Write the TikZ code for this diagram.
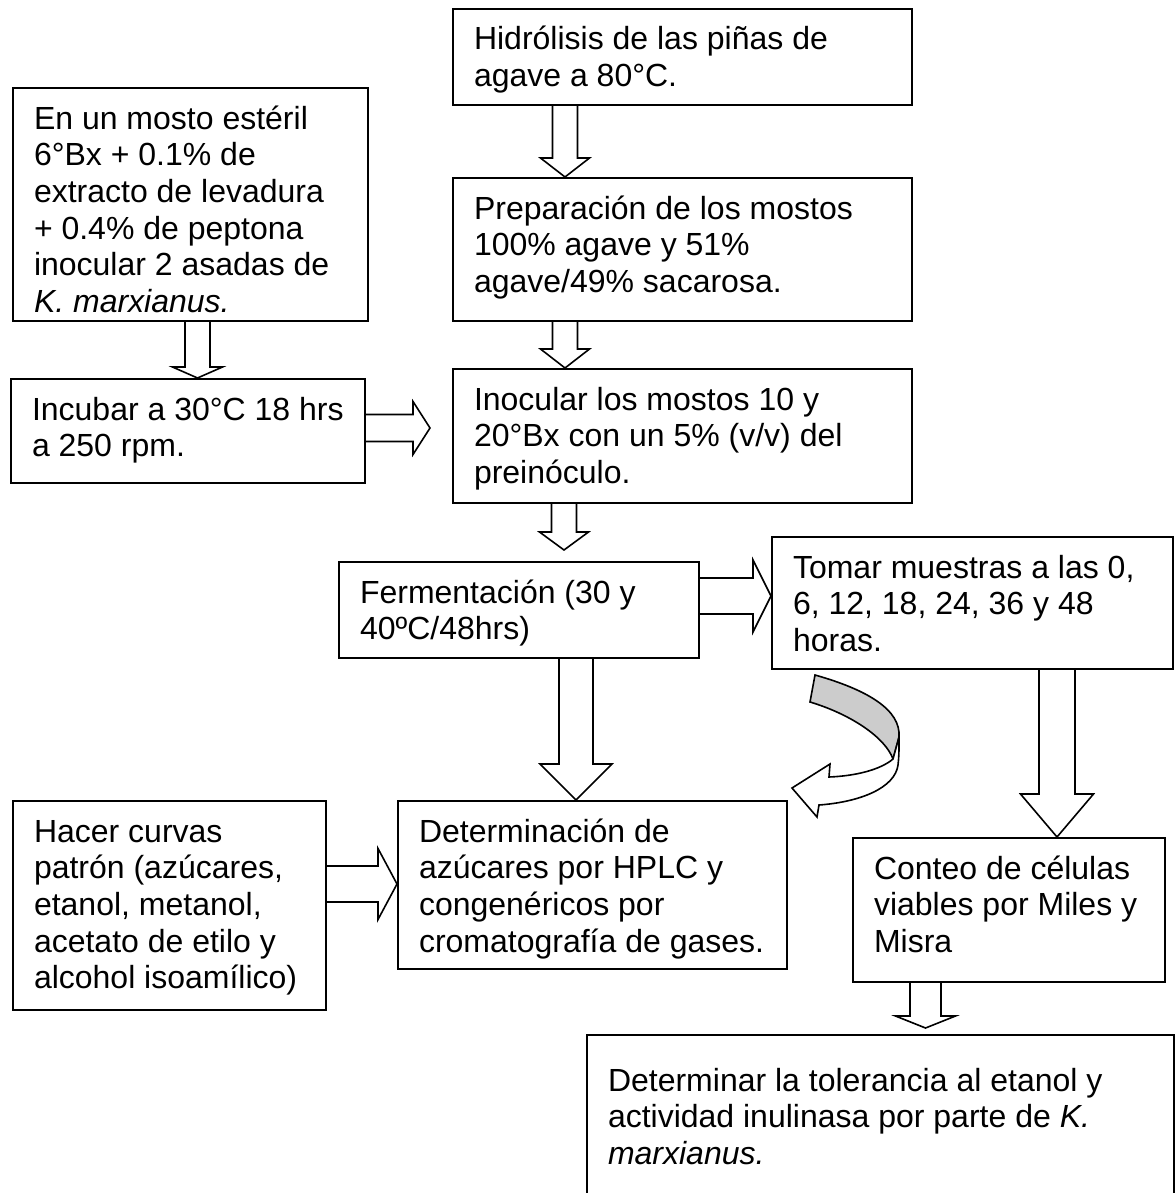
\documentclass[tikz,border=0pt]{standalone}
\usepackage{fontspec}
\setmainfont{Liberation Sans}
\usetikzlibrary{calc}

\tikzset{
  stepbox/.style={draw, line width=1pt, anchor=north west, inner sep=0pt},
  blockarrow/.style={draw, line width=0.8pt, line join=miter}
}

% box text: [first baseline] width, height, lines
\newcommand{\steptext}[4][20.5pt]{%
  \begin{minipage}[t][#3][t]{#2}%
    \raggedright\leftskip=10.5pt\parindent=0pt
    \fontsize{16pt}{18.35pt}\selectfont
    \rule{0pt}{#1}#4%
  \end{minipage}}

% hollow block arrows: tail, tip, shaft half width, head half width, head length
\newcommand{\downblock}[5]{%
  \draw[blockarrow] ($(#1)+(-#3,0)$) -- ($(#2)+(-#3,-#5)$) -- ($(#2)+(-#4,-#5)$)
    -- (#2) -- ($(#2)+(#4,-#5)$) -- ($(#2)+(#3,-#5)$) -- ($(#1)+(#3,0)$);}
\newcommand{\rightblock}[5]{%
  \draw[blockarrow] ($(#1)+(0,-#3)$) -- ($(#2)+(-#5,-#3)$) -- ($(#2)+(-#5,-#4)$)
    -- (#2) -- ($(#2)+(-#5,#4)$) -- ($(#2)+(-#5,#3)$) -- ($(#1)+(0,#3)$);}

\begin{document}
\begin{tikzpicture}[x=0.5pt, y=-0.5pt]
  \useasboundingbox (0,0) rectangle (1174,1193);
  \fill[white] (0,0) rectangle (1174,1193);

  % Boxes
  % centre column
  \node[stepbox] (hidro) at (452,8) {\steptext{229.5pt}{48pt}{Hidrólisis de las piñas de\\agave a 80°C.}};
  \node[stepbox] (prep) at (452,177) {\steptext{229.5pt}{71.5pt}{Preparación de los mostos\\100\% agave y 51\%\\agave/49\% sacarosa.}};
  \node[stepbox] (inoc) at (452,368) {\steptext{229.5pt}{67pt}{Inocular los mostos 10 y\\20°Bx con un 5\% (v/v) del\\preinóculo.}};
  %
  % left column
  \node[stepbox] (mosto) at (12,87) {\steptext{177.5pt}{116.5pt}{En un mosto estéril\\6°Bx + 0.1\% de\\extracto de levadura\\+ 0.4\% de peptona\\inocular 2 asadas de\\\textit{K. marxianus.}}};
  \node[stepbox] (incub) at (10,378) {\steptext{177pt}{52pt}{Incubar a 30°C 18 hrs\\a 250 rpm.}};
  %
  % fermentation and samples
  \node[stepbox] (ferm) at (338,561) {\steptext{180pt}{48pt}{Fermentación (30 y\\40ºC/48hrs)}};
  \node[stepbox] (tomar) at (771,536) {\steptext{200.5pt}{66pt}{Tomar muestras a las 0,\\6, 12, 18, 24, 36 y 48\\horas.}};
  %
  % analyses
  \node[stepbox] (curvas) at (12,800) {\steptext{156.5pt}{104.5pt}{Hacer curvas\\patrón (azúcares,\\etanol, metanol,\\acetato de etilo y\\alcohol isoamílico)}};
  \node[stepbox] (hplc) at (397,800) {\steptext{194.5pt}{84pt}{Determinación de\\azúcares por HPLC y\\congenéricos por\\cromatografía de gases.}};
  \node[stepbox] (conteo) at (852,837) {\steptext{156pt}{72pt}{Conteo de células\\viables por Miles y\\Misra}};
  \node[stepbox] (toler) at (586,1034) {\steptext[28pt]{293.5pt}{103pt}{Determinar la tolerancia al etanol y\\actividad inulinasa por parte de \textit{K.}\\\textit{marxianus.}}};

  %%%%%%%%%%%%%%%%%%%%%%%%%%
  % Arrows
  \coordinate (a1) at ($(hidro.south west)+(113,0)$);
  \coordinate (a2) at ($(prep.north west)+(113,0)$);
  \downblock{a1}{a2}{12.5}{24.5}{19}
  %
  \coordinate (b1) at ($(prep.south west)+(113,0)$);
  \coordinate (b2) at ($(inoc.north west)+(113,0)$);
  \downblock{b1}{b2}{12.5}{24.5}{19}
  %
  \coordinate (c1) at ($(mosto.south west)+(185.5,0)$);
  \coordinate (c2) at ($(incub.north west)+(187.5,0)$);
  \downblock{c1}{c2}{12.5}{25}{11}
  %
  \coordinate (d1) at ($(incub.north east)+(0,50)$);
  \coordinate (d2) at ($(inoc.north west)+(-22,60)$);
  \rightblock{d1}{d2}{13.5}{26.5}{17}
  %
  \coordinate (e1) at ($(inoc.south west)+(112,0)$);
  \coordinate (e2) at ($(ferm.north west)+(226,-11)$);
  \downblock{e1}{e2}{12.5}{24.5}{18}
  %
  \coordinate (f1) at ($(ferm.north east)+(0,35)$);
  \coordinate (f2) at ($(tomar.north west)+(0,60)$);
  \rightblock{f1}{f2}{18}{36}{18}
  %
  \coordinate (g1) at ($(ferm.south west)+(238,0)$);
  \coordinate (g2) at ($(hplc.north west)+(179,0)$);
  \downblock{g1}{g2}{17}{36}{36}
  %
  \coordinate (h1) at ($(curvas.north east)+(0,84)$);
  \coordinate (h2) at ($(hplc.north west)+(0,84)$);
  \rightblock{h1}{h2}{18}{35.5}{19}
  %
  \coordinate (i1) at ($(tomar.south west)+(286,0)$);
  \coordinate (i2) at ($(conteo.north west)+(205,0)$);
  \downblock{i1}{i2}{18}{36.5}{43}
  %
  \coordinate (j1) at ($(conteo.south west)+(73.5,0)$);
  \coordinate (j2) at ($(toler.north west)+(339.5,-6)$);
  \downblock{j1}{j2}{15.5}{30}{12}

  %%%%%%%%%%%%%%%%%%%%%%%%%%
  % curved arrow from samples back to HPLC
  \begin{scope}[shift={(tomar.south west)}]
    \filldraw[fill=black!20, line width=0.8pt] (44,5) .. controls (97,20) and (130,40) .. (128,67)
      -- (122,89) .. controls (114,67) and (79,44) .. (39,32) -- cycle;
    \filldraw[fill=white, line width=0.8pt, line join=miter] (122,89) .. controls (109,100) and (84,106) .. (58,107)
      -- (59,94) -- (21,118) -- (46,147) -- (48,135)
      .. controls (89,132) and (124,118) .. (127,95) .. controls (128,85) .. (128,67) -- cycle;
  \end{scope}
\end{tikzpicture}
\end{document}
